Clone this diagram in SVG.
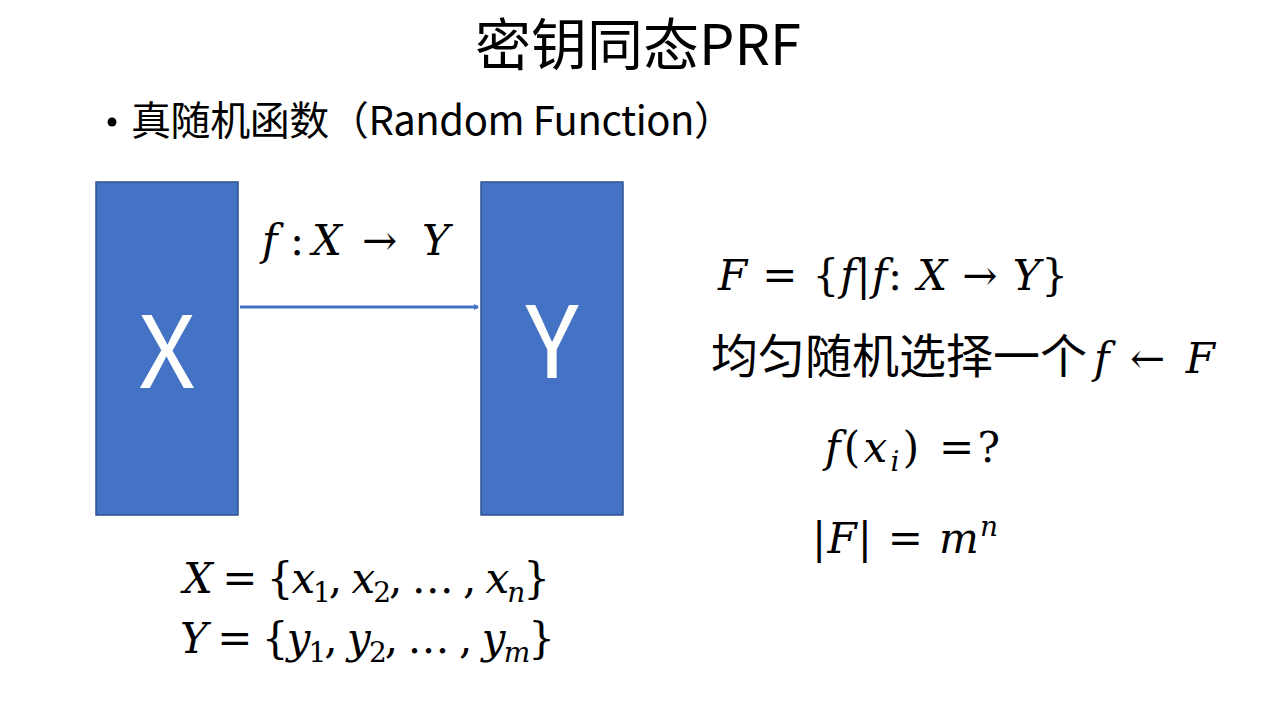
<svg xmlns="http://www.w3.org/2000/svg" width="1280" height="720" viewBox="0 0 1280 720">
<defs>
<style>
.cjk{font-family:"Noto Sans CJK SC","Noto Sans",sans-serif;fill:#000}
.m{font-family:"DejaVu Serif","Liberation Serif",serif;font-style:italic;fill:#000}
.r{font-style:normal}
.box{fill:#4472C4;stroke:#2F528F;stroke-width:1.5}
.lbl{font-family:"Noto Sans CJK SC","Noto Sans",sans-serif;fill:#fff;font-size:100px;text-anchor:middle}
.conn{stroke:#4472C4;stroke-width:3;fill:none}
</style>
<marker id="ah" markerWidth="6" markerHeight="6" refX="4" refY="3" orient="auto" markerUnits="userSpaceOnUse">
<path d="M0,0 L5,3 L0,6 Z" fill="#4472C4"/>
</marker>
</defs>
<rect width="1280" height="720" fill="#fff"/>
<text class="cjk" x="638" y="65" font-size="56" text-anchor="middle">密钥同态PRF</text>
<circle cx="112" cy="122" r="4.5" fill="#000"/>
<text class="cjk" x="131" y="135" font-size="40" textLength="603" lengthAdjust="spacing">真随机函数（Random Function）</text>
<g id="nodeX">
<rect class="box" x="96" y="182" width="142" height="333"/>
<text class="lbl" x="167" y="388">X</text>
</g>
<g id="nodeY">
<rect class="box" x="481" y="182" width="142" height="333"/>
<text class="lbl" x="552" y="378">Y</text>
</g>
<g id="connectors">
<line class="conn" x1="240" y1="307" x2="478" y2="307" marker-end="url(#ah)"/>
</g>
<text class="m" y="255" font-size="42"><tspan x="262">f</tspan><tspan class="r" x="290">:</tspan><tspan x="312">X</tspan><tspan class="r" x="362">→</tspan><tspan x="422">Y</tspan></text>
<g id="formulas">
<text class="m" x="718" y="290" font-size="42" textLength="350" lengthAdjust="spacing">F <tspan class="r">= {</tspan>f<tspan class="r">|</tspan>f<tspan class="r">:</tspan> X <tspan class="r">→</tspan> Y<tspan class="r">}</tspan></text>
<text class="cjk" x="711" y="373" font-size="47">均匀随机选择一个</text>
<text class="m" x="1094" y="373" font-size="42" textLength="121" lengthAdjust="spacing">f <tspan class="r">←</tspan> F</text>
<text class="m" x="825" y="462" font-size="42" textLength="175" lengthAdjust="spacing">f<tspan class="r">(</tspan>x<tspan font-size="28" dy="9">i</tspan><tspan class="r" dy="-9">) =?</tspan></text>
<text class="m" x="812" y="553" font-size="42" textLength="186" lengthAdjust="spacing"><tspan class="r">|</tspan>F<tspan class="r">| = </tspan>m<tspan font-size="28" dy="-17">n</tspan></text>
<text class="m" x="183" y="593" font-size="42" textLength="367" lengthAdjust="spacing">X <tspan class="r">= {</tspan>x<tspan class="r" font-size="28" dy="9">1</tspan><tspan class="r" dy="-9">, </tspan>x<tspan class="r" font-size="28" dy="9">2</tspan><tspan class="r" dy="-9">, … , </tspan>x<tspan font-size="28" dy="9">n</tspan><tspan class="r" dy="-9">}</tspan></text>
<text class="m" x="180" y="653" font-size="42" textLength="375" lengthAdjust="spacing">Y <tspan class="r">= {</tspan>y<tspan class="r" font-size="28" dy="9">1</tspan><tspan class="r" dy="-9">, </tspan>y<tspan class="r" font-size="28" dy="9">2</tspan><tspan class="r" dy="-9">, … , </tspan>y<tspan font-size="28" dy="9">m</tspan><tspan class="r" dy="-9">}</tspan></text>
</g>
</svg>
